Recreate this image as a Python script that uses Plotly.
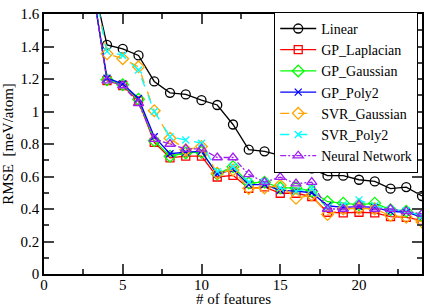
import plotly.graph_objects as go

features = list(range(3, 25))

linear = [1.84, 1.41, 1.385, 1.345, 1.185, 1.115, 1.105, 1.07, 1.04, 0.92, 0.765, 0.755,
          0.73, 0.69, 0.65, 0.605, 0.605, 0.58, 0.57, 0.525, 0.535, 0.48]
gp_laplacian = [1.82, 1.19, 1.16, 1.065, 0.81, 0.715, 0.725, 0.725, 0.597, 0.607, 0.527, 0.536,
                0.497, 0.497, 0.477, 0.38, 0.376, 0.38, 0.376, 0.353, 0.348, 0.33]
gp_gaussian = [1.82, 1.195, 1.165, 1.075, 0.82, 0.725, 0.745, 0.75, 0.616, 0.66, 0.56, 0.565,
               0.53, 0.53, 0.51, 0.445, 0.436, 0.426, 0.436, 0.396, 0.386, 0.36]
gp_poly2 = [1.81, 1.205, 1.17, 1.08, 0.845, 0.74, 0.75, 0.755, 0.615, 0.643, 0.55, 0.55,
            0.515, 0.51, 0.50, 0.42, 0.41, 0.415, 0.41, 0.385, 0.38, 0.35]
svr_gaussian = [1.86, 1.355, 1.325, 1.275, 1.005, 0.835, 0.765, 0.785, 0.62, 0.64, 0.527, 0.53,
                0.546, 0.466, 0.486, 0.366, 0.40, 0.405, 0.40, 0.36, 0.35, 0.32]
svr_poly2 = [1.85, 1.37, 1.345, 1.255, 1.0, 0.845, 0.825, 0.805, 0.63, 0.66, 0.566, 0.566,
             0.53, 0.51, 0.526, 0.41, 0.426, 0.456, 0.42, 0.395, 0.39, 0.355]
neural_network = [1.82, 1.19, 1.16, 1.05, 0.83, 0.80, 0.77, 0.77, 0.717, 0.717, 0.613, 0.565,
                  0.596, 0.556, 0.565, 0.40, 0.40, 0.426, 0.40, 0.40, 0.385, 0.37]

x_title = "# of features"
y_title = "RMSE  [meV/atom]"

series = [
    ("Linear", linear, "black", "solid", "circle-open", 9),
    ("GP_Laplacian", gp_laplacian, "#ff0000", "solid", "square-open", 8),
    ("GP_Gaussian", gp_gaussian, "#00ff00", "solid", "diamond-open", 9),
    ("GP_Poly2", gp_poly2, "#0000ff", "solid", "x-thin-open", 7),
    ("SVR_Gaussian", svr_gaussian, "#ffa500", "dash", "diamond-open", 9),
    ("SVR_Poly2", svr_poly2, "#00ffff", "dash", "x-thin-open", 7),
    ("Neural Network", neural_network, "#a020f0", "6px,2px,2px,2px,2px,2px", "triangle-up-open", 9),
]

fig = go.Figure()
for name, vals, color, dash, sym, size in series:
    fig.add_trace(go.Scatter(
        x=features, y=vals, name=name, mode="lines+markers",
        line=dict(color=color, width=1.3, dash=dash),
        marker=dict(symbol=sym, size=size, color=color, line=dict(color=color, width=1.3)),
    ))

font = "Liberation Serif"
fig.update_layout(
    width=430, height=307,
    margin=dict(l=43, r=6, t=8, b=33),
    paper_bgcolor="white", plot_bgcolor="white",
    font=dict(family=font, size=15, color="black"),
    showlegend=True,
    legend=dict(x=0.99, y=1.008, xanchor="right", yanchor="top",
                bgcolor="white", bordercolor="black", borderwidth=1,
                font=dict(family=font, size=14), tracegroupgap=0,
                itemwidth=36, maxheight=300),
    xaxis=dict(range=[0, 24], dtick=5, tick0=0, ticks="inside", ticklen=10,
               tickwidth=1.5, showline=True, linecolor="black", linewidth=1.5,
               mirror="allticks", showgrid=False, zeroline=False,
               minor=dict(dtick=2.5, ticks="inside", ticklen=5, tickwidth=1.5),
               ticklabelstandoff=-4,
               tickfont=dict(size=15)),
    yaxis=dict(range=[0, 1.6], dtick=0.2, tick0=0, ticks="inside", ticklen=10,
               tickwidth=1.5, showline=True, linecolor="black", linewidth=1.5,
               mirror="allticks", showgrid=False, zeroline=False,
               minor=dict(dtick=0.1, ticks="inside", ticklen=5, tickwidth=1.5),
               title=dict(text=y_title, standoff=4, font=dict(size=15)),
               tickfont=dict(size=15), tickformat="~g"),
    annotations=[dict(text=x_title, xref="paper", yref="paper", x=0.5, y=-0.097,
                      xanchor="center", yanchor="middle", showarrow=False,
                      font=dict(family=font, size=15))],
)

fig.write_html("out.html", config={"displayModeBar": False},
               post_script="document.body.style.margin='0';")
